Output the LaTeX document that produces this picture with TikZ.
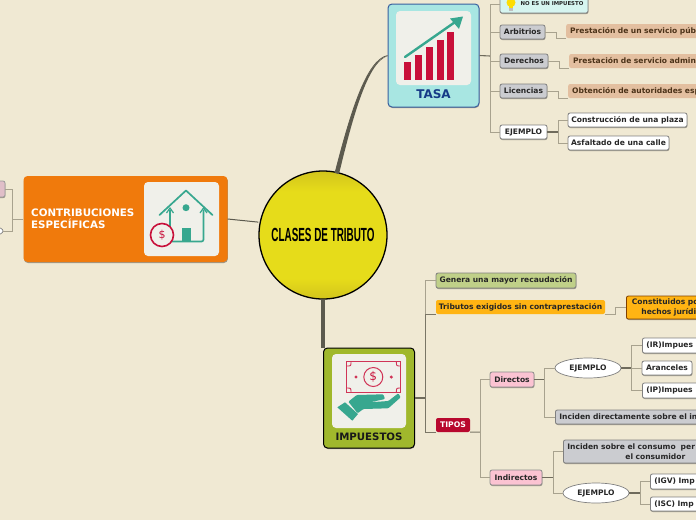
\documentclass[tikz,border=0pt]{standalone}
\usepackage{fontspec}
\setmainfont{DejaVu Sans}
\newfontfamily\titlefont[FakeStretch=0.52]{Liberation Sans}
\usetikzlibrary{shadows,shapes.geometric,arrows.meta}
\definecolor{bg}{HTML}{F0E9D3}
\definecolor{teal}{HTML}{37A78F}
\definecolor{cred}{HTML}{C8103A}
\definecolor{panel}{HTML}{F0F0EA}
\definecolor{ln}{HTML}{A8A28E}
\definecolor{lnd}{HTML}{6F6B5C}
\definecolor{trunk}{HTML}{5C5A4E}
\definecolor{gry}{HTML}{CBCCD0}
\definecolor{peach}{HTML}{E3BFA0}
\definecolor{pinkb}{HTML}{FBC3D2}
\definecolor{amber}{HTML}{FFB413}
\definecolor{sundk}{HTML}{D2C41C}
\definecolor{sunlt}{HTML}{E6DC1A}
\pgfdeclareverticalshading{sun}{100bp}{color(0bp)=(sundk);color(25bp)=(sundk);color(33bp)=(sunlt);color(67bp)=(sunlt);color(75bp)=(sundk);color(100bp)=(sundk)}
\tikzset{
  shad/.style={drop shadow={shadow xshift=0.4pt,shadow yshift=-1pt,opacity=.35,fill=black}},
  leaf/.style={rectangle,rounded corners=2pt,draw=#1,line width=.8pt,inner sep=0pt,shad,font=\fontsize{7.55}{9.4}\bfseries,text=black!85},
  leaf/.default=gray,
  whitebox/.style={leaf=black!50,fill=white},
  greybox/.style={leaf=black!50,fill=gry},
  pinkbox/.style={leaf=black!45,fill=pinkb},
  peachbox/.style={rectangle,rounded corners=2pt,fill=peach,inner sep=0pt,font=\fontsize{7.55}{9.4}\bfseries,text=black!60!brown},
  oval/.style={ellipse,draw=black!50,line width=.7pt,fill=white,inner sep=0pt,minimum width=66pt,minimum height=20pt,font=\fontsize{7.55}{9.4}\bfseries,text=black!85},
  edgebox/.style={anchor=west,text width=#1,align=left,inner xsep=4pt},
  conn/.style={draw=ln,line width=1pt},
  stub/.style={draw=lnd,line width=1.1pt},
  big/.style={rectangle,rounded corners=4pt,inner sep=0pt,shad},
  panelbox/.style={rectangle,rounded corners=4pt,fill=panel,inner sep=0pt}
}
\begin{document}
\begin{tikzpicture}[x=1pt,y=-1pt]
\useasboundingbox (0,0) rectangle (696,520);
\clip (0,0) rectangle (696,520);
\fill[bg] (0,0) rectangle (696,520);

% main nodes
\node[circle,draw=black,line width=1.3pt,shading=sun,minimum size=128pt,inner sep=0pt] (root) at (323,235) {};
\node[font=\titlefont\fontsize{19}{21}\bfseries] (title) at (323,235) {CLASES DE TRIBUTO};
\node[big,fill={rgb,255:red,168;green,230;blue,226},draw={rgb,255:red,58;green,95;blue,158},line width=1pt,minimum width=91pt,minimum height=103pt] (tasa) at (433.5,55.5) {};
\node[big,fill={rgb,255:red,240;green,122;blue,12},minimum width=204pt,minimum height=86pt] (contrib) at (125.5,219) {};
\node[big,draw=black,line width=1pt,fill={rgb,255:red,160;green,184;blue,44},minimum width=91pt,minimum height=100pt] (imp) at (369,398) {};

% main connectors
\draw[trunk,line width=1pt] (root.181) ++(0,-14) coordinate (cw) (contrib.east) -- (cw);
\coordinate (rt1) at (335,173);
\coordinate (rt2) at (339,174);
\coordinate (tw) at (388,56);
\fill[trunk] (rt1) .. controls (350,115) and (366,60) .. (tw) .. controls (368,61) and (353,116) .. (rt2) -- cycle;
\draw[trunk,line width=.8pt] (rt1) .. controls (350,115) and (366,60) .. (tasa.west);
\draw[trunk,line width=3.6pt] (root.south) -- (root.south |- imp.north);

% TASA panel
\node[panelbox,minimum width=75pt,minimum height=74pt] (tp) at (433.5,48) {};
\foreach \a/\b/\t in {404/411/62,415/422/55,426/432.5/47,437/443.5/40,447/454/32}
  \fill[cred] (\a,\t) rectangle (\b,79.5);
\draw[teal,line width=2.4pt,line cap=round] (405,57) -- (458,20);
\fill[teal] (463,16.5) -- (450,18.5) -- (459,29) -- cycle;
\node[font=\fontsize{12}{14}\bfseries,text={rgb,255:red,22;green,58;blue,135}] (tasat) at (433.5,94.5) {TASA};

% contrib panel
\node[panelbox,minimum width=75pt,minimum height=74pt] (cp) at (181.5,219) {};
\node[anchor=west,align=left,text=white,font=\fontsize{10.3}{12.4}\bfseries,inner sep=0pt] (ct) at (31,219) {CONTRIBUCIONES\\ESPECÍFICAS};
\draw[teal,line width=1.7pt,line join=round,line cap=round] (159.5,215) -- (186,190.5) -- (212.5,215);
\draw[teal,line width=1.7pt,line join=round,rounded corners=2pt] (170,210) -- (170,241.5) -- (203.5,241.5) -- (203.5,210);
\draw[teal,line width=1.2pt] (166.5,213) -- (170,208) -- (173.5,213);
\draw[teal,line width=1.2pt] (200,213) -- (203.5,208) -- (207,213);
\fill[teal] (186,207.7) circle (3.5);
\fill[teal] (181.7,228) rectangle (191,242);
\draw[cred,line width=1.6pt,fill=panel] (162,235) circle (11.5);
\node[text=cred,font=\fontsize{11}{12}\selectfont,inner sep=0pt] (cs) at (162,235) {\$};

% impuestos panel
\node[panelbox,minimum width=74pt,minimum height=74pt] (ip) at (369,391) {};
\draw[cred!85!white,line width=1.5pt] (346.7,361.7) rectangle (400.7,392.3);
\draw[cred!85!white,line width=.9pt]
  (346.7,366) .. controls (351,366) .. (351,361.7)
  (396.4,361.7) .. controls (396.4,366) .. (400.7,366)
  (346.7,388) .. controls (351,388) .. (351,392.3)
  (396.4,392.3) .. controls (396.4,388) .. (400.7,388);
\draw[cred!85!white,line width=1pt] (373.3,377) circle (9.5);
\node[text=cred,font=\fontsize{12}{13}\selectfont,inner sep=0pt] (is) at (373.3,377) {\$};
\fill[cred!85!white] (356,377) circle (1.7) (391.3,377) circle (1.7);
\fill[teal] (337.3,407.3) -- (345,402.3) -- (358,414) -- (352.3,420.7) -- cycle;
\fill[teal,rounded corners=1pt] (348.3,401.7) -- (356.7,395) -- (383.3,394.3) -- (385,399) -- (370,402.3) -- (388.3,401) -- (398.3,393.3) -- (400.7,397.3) -- (388.3,408.3) -- (363.3,409) -- (357.7,413.3) -- cycle;
\node[font=\fontsize{10.2}{12}\bfseries,text=black!90] (impt) at (369,436.5) {IMPUESTOS};

% TASA children
\node[leaf=black!50,fill={rgb,255:red,214;green,245;blue,240},minimum width=88pt,minimum height=18pt,font=\fontsize{5.4}{6}\bfseries] (noes) at (544,4) {\hspace{16pt}NO ES UN IMPUESTO};
\fill[yellow!80!orange] (511,2.5) circle (4.5);
\fill[yellow!80!orange] (509,5) rectangle (513,8);
\fill[black!25] (509.3,8) rectangle (512.7,10.5);
\node[greybox,minimum width=45pt,minimum height=14pt] (arb) at (522.5,32) {Arbitrios};
\node[greybox,minimum width=48pt,minimum height=14pt] (der) at (524,61) {Derechos};
\node[greybox,minimum width=47pt,minimum height=14pt] (lic) at (523.5,91) {Licencias};
\node[whitebox,minimum width=47pt,minimum height=14pt] (ej1) at (523.5,132) {EJEMPLO};
\node[whitebox,minimum width=119pt,minimum height=14pt] (con) at (627.5,120) {Construcción de una plaza};
\node[whitebox,minimum width=101pt,minimum height=14pt] (asf) at (618.5,143) {Asfaltado de una calle};
\node[peachbox,edgebox=160pt,minimum height=14pt] (p1) at (566,31) {Prestación de un servicio públ};
\node[peachbox,edgebox=160pt,minimum height=14pt] (p2) at (569,61) {Prestación de servicio admini};
\node[peachbox,edgebox=160pt,minimum height=14pt] (p3) at (568,91) {Obtención de autoridades esp};

\coordinate (tj) at (490,56);
\draw[stub] (tasa.east) -- (tj);
\draw[conn] (tj) |- (noes.west);
\draw[conn] (tj) |- (arb.west);
\draw[conn] (tj) |- (der.west);
\draw[conn] (tj) |- (lic.west);
\draw[conn] (tj) |- (ej1.west);
\draw[conn] (arb.east) -- ++(11,0) |- (p1.south west);
\draw[conn] (der.east) -- ++(11,0) |- (p2.south west);
\draw[conn] (lic.east) -- ++(11,0) |- (p3.south west);
\coordinate (ej1j) at (558,132);
\draw[stub] (ej1.east) -- (ej1j);
\draw[conn] (ej1j) |- (con.west);
\draw[conn] (ej1j) |- (asf.west);

% contrib children
\node[leaf=black!40,fill={rgb,255:red,224;green,190;blue,200},minimum width=40pt,minimum height=16pt] (lp) at (-15,189) {};
\node[oval,minimum width=56pt,minimum height=14pt] (lo) at (-25,231) {};
\coordinate (cj) at (12.3,219);
\draw[conn] (contrib.west) -- (cj);
\draw[conn] (cj) |- (lp.east);
\draw[conn] (cj) |- (lo.east);

% impuestos children
\node[leaf=black!50,fill={rgb,255:red,192;green,208;blue,136},minimum width=140pt,minimum height=15pt] (gen) at (506,280.5) {Genera una mayor recaudación};
\node[rectangle,rounded corners=2pt,fill=amber,inner sep=0pt,font=\fontsize{7.55}{9.4}\bfseries,text=black!85,minimum width=169pt,minimum height=14pt] (tri) at (520.5,307) {Tributos exigidos sin contraprestación};
\node[leaf=black!50!orange,fill=amber,edgebox=100pt,minimum height=23pt] (cons) at (626,307.5) {\hspace*{1.5pt}Constituidos po\\\hspace*{11pt}hechos jurídi};
\node[rectangle,rounded corners=2pt,fill={rgb,255:red,184;green,8;blue,46},inner sep=0pt,font=\fontsize{7.7}{9}\bfseries,text=white,minimum width=34pt,minimum height=14pt] (tip) at (453,425) {TIPOS};
\node[pinkbox,minimum width=44pt,minimum height=15pt] (dir) at (512,379.5) {Directos};
\node[pinkbox,minimum width=52pt,minimum height=15pt] (ind) at (516,477.5) {Indirectos};
\node[oval] (ej2) at (588,368) {EJEMPLO};
\node[oval] (ej3) at (596,493) {EJEMPLO};
\node[greybox,edgebox=160pt,minimum height=14pt] (inc1) at (555,417) {Inciden directamente sobre el in};
\node[greybox,edgebox=160pt,minimum height=23pt] (inc2) at (563,451.5) {Inciden sobre el consumo\ \ per\\\hspace*{58pt}el consumidor};
\node[whitebox,edgebox=100pt,minimum height=15pt] (ir) at (642,345.5) {(IR)Impues};
\node[whitebox,minimum width=50pt,minimum height=14pt] (ara) at (667,368) {Aranceles};
\node[whitebox,edgebox=100pt,minimum height=15pt] (ipp) at (642,390.5) {(IP)Impues};
\node[whitebox,edgebox=100pt,minimum height=15pt] (igv) at (650,481.5) {(IGV) Imp};
\node[whitebox,edgebox=100pt,minimum height=14pt] (isc) at (650,504) {(ISC) Imp};

\coordinate (ij) at (425.7,398);
\draw[stub] (imp.east) -- (ij);
\draw[conn] (ij) |- (gen.west);
\draw[conn,draw=lnd!80!ln] (ij) |- (tri.south west);
\draw[conn,draw=lnd!80!ln] (ij) |- (tip.south west);
\draw[conn] (tri.south east) -- ++(10.7,0) |- (cons.west);
\coordinate (tj2) at (480,432);
\draw[conn,draw=lnd!80!ln] (tip.south east) -- (tj2);
\draw[conn] (tj2) |- (dir.west);
\draw[conn] (tj2) |- (ind.west);
\coordinate (dj) at (544,379.5);
\draw[stub] (dir.east) -- (dj);
\draw[conn] (dj) |- (ej2.west);
\draw[conn] (dj) |- (inc1.west);
\coordinate (ej2j) at (631.7,368);
\draw[stub] (ej2.east) -- (ej2j);
\draw[conn] (ej2j) |- (ir.west);
\draw[conn] (ej2j) -- (ara.west);
\draw[conn] (ej2j) |- (ipp.west);
\coordinate (indj) at (553,477.5);
\draw[stub] (ind.east) -- (indj);
\draw[conn] (indj) |- (inc2.west);
\draw[conn] (indj) |- (ej3.west);
\coordinate (ej3j) at (640,493);
\draw[stub] (ej3.east) -- (ej3j);
\draw[conn] (ej3j) |- (igv.west);
\draw[conn] (ej3j) |- (isc.west);
\end{tikzpicture}
\end{document}
